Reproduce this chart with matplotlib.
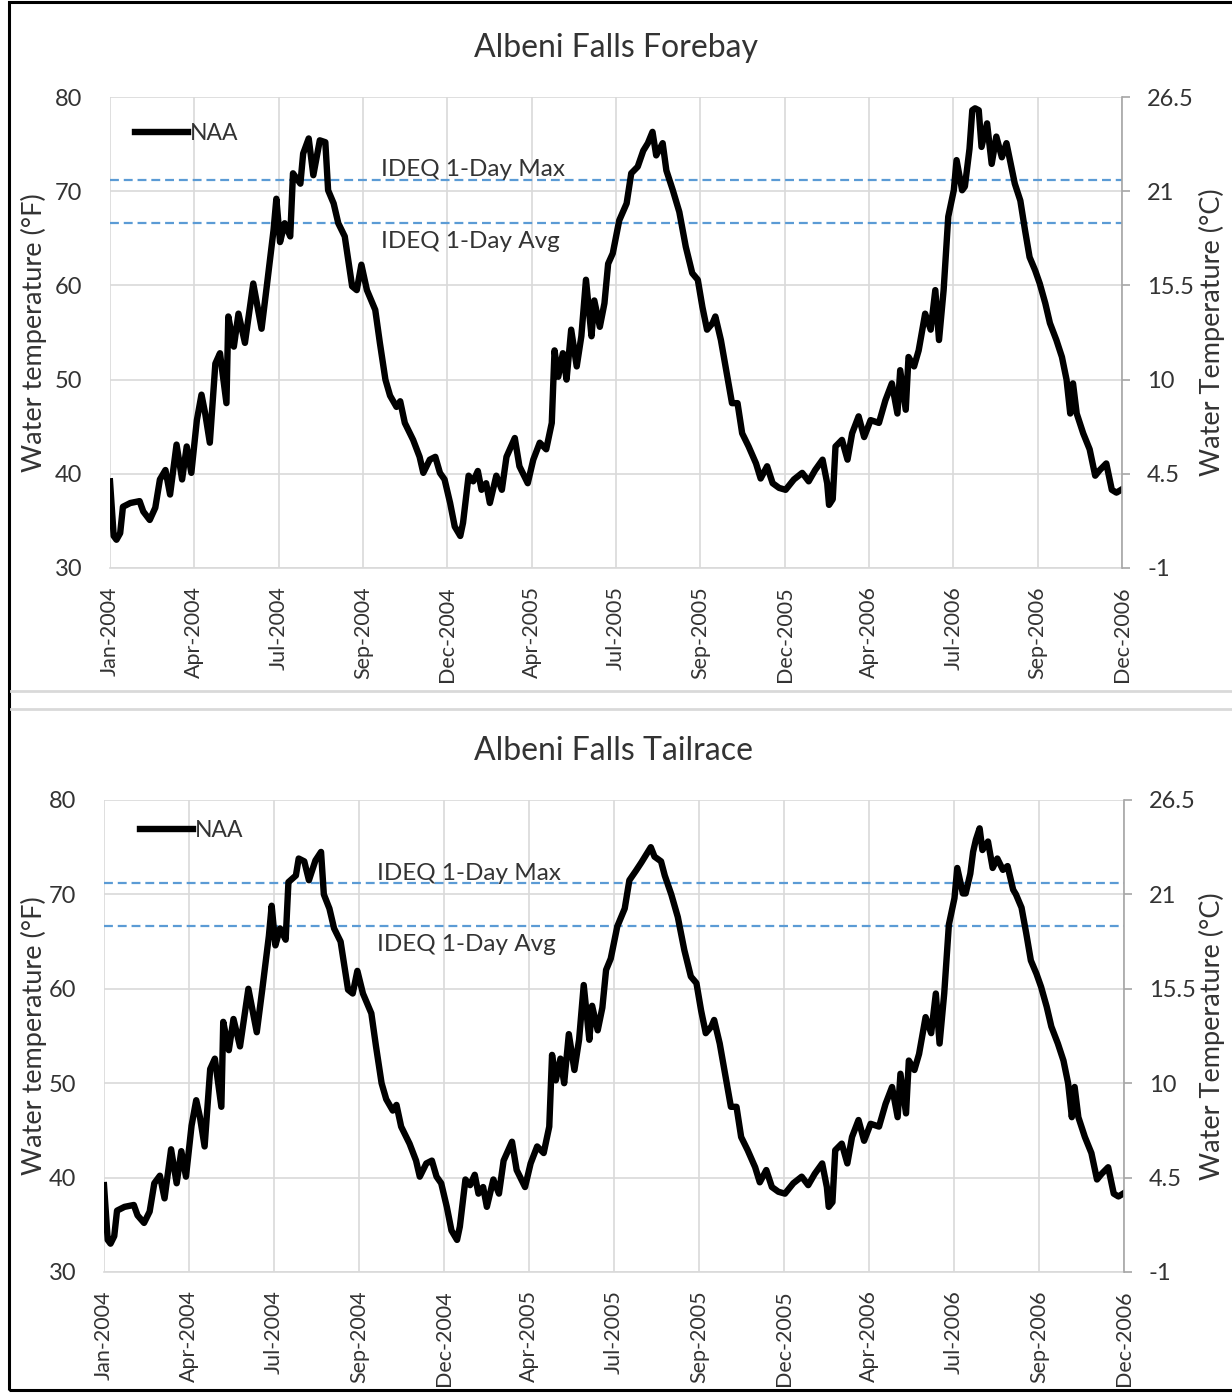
import matplotlib.pyplot as plt
from matplotlib.lines import Line2D
from matplotlib.patches import Rectangle

plt.rcParams['font.family'] = ['Lato', 'DejaVu Sans']

# day index from 1 Jan 2004
fb_days = [0, 4, 7, 11, 14, 22, 32, 36, 43, 49, 54, 60, 65, 72, 78, 83, 88, 94, 99, 103,
           108, 114, 119, 126, 128, 134, 139, 146, 155, 164, 170, 177, 180, 184, 189, 195,
           198, 206, 209, 215, 220, 227, 233, 236, 242, 247, 254, 262, 267, 272, 278, 287,
           292, 298, 303, 310, 314, 319, 328, 335, 339, 346, 352, 357, 362, 368, 373, 379,
           382, 388, 393, 398, 402, 407, 411, 418, 424, 429, 438, 443, 452, 458, 465, 472,
           478, 481, 485, 490, 494, 499, 505, 510, 515, 521, 524, 530, 535, 539, 544, 551,
           559, 564, 571, 577, 582, 587, 591, 598, 602, 609, 616, 623, 630, 636, 641, 646,
           652, 655, 661, 666, 673, 679, 684, 691, 699, 704, 711, 717, 724, 731, 740, 749,
           756, 763, 771, 776, 778, 782, 785, 792, 798, 803, 810, 816, 823, 832, 839, 846,
           852, 855, 861, 864, 870, 875, 882, 888, 893, 897, 902, 907, 913, 916, 922, 925,
           930, 933, 936, 940, 943, 949, 954, 959, 965, 970, 976, 979, 985, 990, 995, 1001,
           1006, 1012, 1017, 1024, 1030, 1035, 1039, 1042, 1046, 1053, 1060, 1066, 1071,
           1078, 1084, 1089, 1094]
fb_temp = [39.2, 33.4, 33.0, 33.7, 36.5, 36.9, 37.1, 36.0, 35.1, 36.4, 39.4, 40.4, 37.8,
           43.1, 39.4, 42.9, 40.1, 45.7, 48.4, 46.4, 43.3, 51.7, 52.8, 47.5, 56.7, 53.5,
           57.0, 53.9, 60.2, 55.4, 60.2, 65.9, 69.2, 64.6, 66.6, 65.2, 71.9, 70.8, 74.0,
           75.6, 71.7, 75.4, 75.2, 70.1, 68.7, 66.6, 65.2, 59.9, 59.5, 62.2, 59.5, 57.4,
           53.9, 50.0, 48.3, 47.1, 47.7, 45.4, 43.6, 41.8, 40.1, 41.5, 41.8, 40.1, 39.4,
           36.9, 34.4, 33.4, 34.8, 39.8, 39.2, 40.3, 38.3, 39.0, 36.9, 39.8, 38.3, 41.8,
           43.8, 40.8, 39.0, 41.5, 43.3, 42.6, 45.4, 53.1, 50.3, 52.8, 50.0, 55.3, 51.4,
           54.6, 60.6, 54.6, 58.4, 55.6, 58.1, 62.3, 63.4, 66.9, 68.7, 71.9, 72.6, 74.3,
           75.1, 76.3, 73.8, 75.1, 72.2, 70.1, 67.8, 64.1, 61.3, 60.6, 57.7, 55.3, 56.0,
           56.7, 54.2, 51.4, 47.5, 47.5, 44.3, 42.9, 41.1, 39.5, 40.8, 39.0, 38.5, 38.3,
           39.4, 40.1, 39.2, 40.4, 41.5, 39.0, 36.7, 37.3, 42.9, 43.6, 41.5, 44.3, 46.1,
           43.9, 45.7, 45.4, 47.8, 49.6, 46.4, 51.0, 46.8, 52.4, 51.4, 53.1, 57.0, 55.3,
           59.5, 54.2, 59.5, 67.3, 70.1, 73.3, 70.1, 70.5, 74.5, 78.6, 78.8, 78.6, 74.7,
           77.2, 72.9, 75.8, 73.6, 75.1, 72.2, 70.8, 69.0, 65.9, 63.0, 61.6, 60.2, 58.1,
           56.0, 54.2, 52.4, 50.0, 46.4, 49.6, 46.4, 44.3, 42.6, 39.8, 40.4, 41.1, 38.3,
           38.0, 38.3]

tr_days = fb_days
tr_temp = [39.2, 33.4, 33.0, 33.8, 36.5, 36.9, 37.1, 36.0, 35.2, 36.4, 39.4, 40.2, 37.8,
           43.0, 39.4, 42.8, 40.1, 45.5, 48.2, 46.4, 43.3, 51.5, 52.6, 47.5, 56.5, 53.5,
           56.8, 53.9, 60.0, 55.4, 60.0, 65.6, 68.8, 64.6, 66.4, 65.2, 71.3, 72.0, 73.8,
           73.5, 71.5, 73.6, 74.5, 70.0, 68.5, 66.4, 65.0, 59.9, 59.5, 61.9, 59.5, 57.4,
           53.9, 50.0, 48.3, 47.1, 47.7, 45.4, 43.6, 41.8, 40.1, 41.5, 41.8, 40.1, 39.4,
           36.9, 34.4, 33.4, 34.8, 39.8, 39.2, 40.3, 38.3, 39.0, 36.9, 39.8, 38.3, 41.8,
           43.8, 40.8, 39.0, 41.5, 43.3, 42.6, 45.4, 53.0, 50.3, 52.6, 50.0, 55.2, 51.4,
           54.6, 60.4, 54.6, 58.2, 55.6, 58.0, 62.0, 63.2, 66.6, 68.5, 71.5, 72.5, 73.4,
           74.2, 75.0, 74.0, 73.5, 72.0, 70.0, 67.6, 64.1, 61.3, 60.6, 57.7, 55.3, 56.0,
           56.7, 54.2, 51.4, 47.5, 47.5, 44.3, 42.9, 41.1, 39.5, 40.8, 39.0, 38.5, 38.3,
           39.4, 40.1, 39.2, 40.4, 41.5, 39.0, 36.9, 37.4, 42.9, 43.6, 41.5, 44.3, 46.1,
           43.9, 45.7, 45.4, 47.8, 49.6, 46.4, 51.0, 46.8, 52.4, 51.4, 53.1, 57.0, 55.3,
           59.5, 54.2, 59.5, 66.8, 69.6, 72.8, 70.1, 70.1, 72.2, 74.5, 75.8, 77.0, 74.7,
           75.6, 72.8, 73.8, 72.6, 73.0, 70.5, 70.0, 68.6, 65.9, 63.0, 61.6, 60.2, 58.1,
           56.0, 54.2, 52.4, 50.0, 46.4, 49.6, 46.4, 44.3, 42.6, 39.8, 40.4, 41.1, 38.3,
           38.0, 38.3]

tick_labels = ['Jan-2004', 'Apr-2004', 'Jul-2004', 'Sep-2004', 'Dec-2004', 'Apr-2005',
               'Jul-2005', 'Sep-2005', 'Dec-2005', 'Apr-2006', 'Jul-2006', 'Sep-2006',
               'Dec-2006']
n_days = 1095
ideq_max = 71.2
ideq_avg = 66.6
f_ticks = [30, 40, 50, 60, 70, 80]
c_ticks = [-1, 4.5, 10, 15.5, 21, 26.5]

W, H = 1232, 1394
fig = plt.figure(figsize=(W / 100, H / 100), dpi=100)

grid_c = '#d9d9d9'
axis_c = '#a6a6a6'
blue = '#5b9bd5'
txt_c = '#333333'


def panel(rect, days, temps, title, title_y, leg_dx, leg_dy):
    l, t, r, b = rect
    ax = fig.add_axes([l / W, 1 - b / H, (r - l) / W, (b - t) / H])
    ax.plot(days, temps, color='black', lw=4.6, solid_joinstyle='round', zorder=3)
    ax.axhline(ideq_max, color=blue, lw=1.6, ls=(0, (4, 2.2)), zorder=2)
    ax.axhline(ideq_avg, color=blue, lw=1.6, ls=(0, (4, 2.2)), zorder=2)
    ax.text(293, ideq_max - 0.05, 'IDEQ 1-Day Max', fontsize=17.5, color=txt_c,
            va='bottom', ha='left')
    ax.text(293, ideq_avg - 0.8, 'IDEQ 1-Day Avg', fontsize=17.5, color=txt_c,
            va='top', ha='left')

    ax.set_xlim(0, n_days)
    ax.set_ylim(30, 80)
    ax.set_xticks([i * n_days / 12 for i in range(13)])
    ax.set_xticklabels(tick_labels, rotation=90, fontsize=15.5, color=txt_c)
    ax.set_yticks(f_ticks)
    ax.set_yticklabels([str(v) for v in f_ticks], fontsize=17, color=txt_c)
    ax.tick_params(axis='x', length=0, pad=13)
    ax.tick_params(axis='y', length=0, pad=20)
    ax.grid(True, color=grid_c, lw=1.2)
    ax.set_axisbelow(True)
    for s in ['left', 'top', 'right']:
        ax.spines[s].set_visible(False)
    ax.spines['bottom'].set_color(grid_c)
    ax.spines['bottom'].set_linewidth(1.2)

    ax2 = ax.twinx()
    ax2.set_ylim(-1, 26.5)
    ax2.set_yticks(c_ticks)
    ax2.set_yticklabels(['%g' % v for v in c_ticks], fontsize=17, color=txt_c)
    ax2.tick_params(axis='y', length=6, width=1.2, color=axis_c, pad=12)
    for s in ['left', 'top', 'bottom']:
        ax2.spines[s].set_visible(False)
    ax2.spines['right'].set_color(axis_c)
    ax2.spines['right'].set_linewidth(1.2)

    ax.legend([Line2D([], [], color='black', lw=4.6)], ['NAA'], loc='upper left',
              frameon=False, fontsize=16.5, handlelength=2.3, handletextpad=0.1,
              borderpad=0, borderaxespad=0,
              bbox_to_anchor=(leg_dx / (r - l), 1 - leg_dy / (b - t)), labelcolor=txt_c)

    mid = 1 - (t + b) / 2 / H
    fig.text(34 / W, mid, 'Water temperature (°F)', rotation=90, ha='center', va='center',
             fontsize=19.5, color=txt_c)
    fig.text(1212 / W, mid, 'Water Temperature (°C)', rotation=90, ha='center',
             va='center', fontsize=19.5, color=txt_c)
    fig.text((l + r) / 2 / W, 1 - title_y / H, title, ha='center', va='center',
             fontsize=23, color=txt_c)
    return ax


panel((110, 97, 1122, 568), fb_days, fb_temp, 'Albeni Falls Forebay', 48, 25, 26)
panel((104, 800, 1124, 1272), tr_days, tr_temp, 'Albeni Falls Tailrace', 751, 36, 20)

# chart frame and separator between the two charts
fig.add_artist(Rectangle((9 / W, 4 / H), 1.0, (1392 - 4) / H, transform=fig.transFigure,
                         fill=False, edgecolor='black', lw=2.2))
for yy in [691, 709]:
    fig.add_artist(Line2D([11 / W, 1.0], [1 - yy / H, 1 - yy / H], transform=fig.transFigure,
                          color=grid_c, lw=2))

fig.savefig('out.png', dpi=100)
